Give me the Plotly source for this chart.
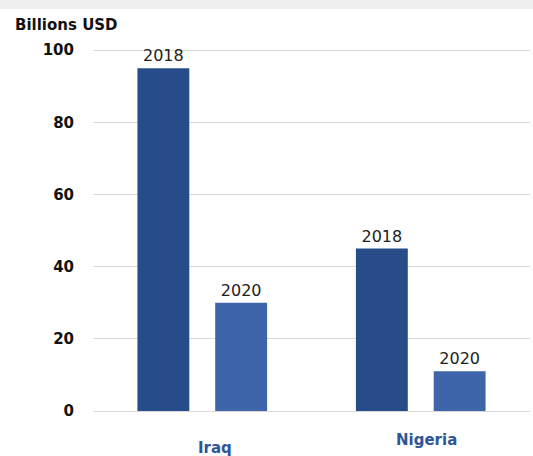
import plotly.graph_objects as go

countries = ["Iraq", "Nigeria"]
years = ["2018", "2020"]
values_2018 = [95, 45]
values_2020 = [30, 11]
y_ticks = [0, 20, 40, 60, 80, 100]

colors = {"2018": "#264C8A", "2020": "#3E65A9"}

fig = go.Figure()
for yr, vals in zip(years, [values_2018, values_2020]):
    fig.add_trace(go.Bar(
        x=countries, y=vals, name=yr,
        marker=dict(color=colors[yr], line=dict(width=0)),
        text=[yr] * len(vals), textposition="outside",
        textfont=dict(family="DejaVu Sans", size=16, color="#222222"),
        cliponaxis=False,
    ))

fig.update_layout(
    width=533, height=456,
    margin=dict(l=93, r=3, t=49, b=45),
    paper_bgcolor="white", plot_bgcolor="white",
    barmode="group", bargap=0.288, bargroupgap=0.333,
    showlegend=False,
    xaxis=dict(showticklabels=False, showgrid=False, zeroline=False,
               showline=False, ticks=""),
    yaxis=dict(range=[0, 100.3], tickvals=y_ticks, showgrid=True,
               gridcolor="#D9D9D9", gridwidth=1, zeroline=True,
               zerolinecolor="#D9D9D9", zerolinewidth=1,
               ticklabelstandoff=18,
               tickfont=dict(family="DejaVu Sans", size=15, color="#111111",
                             weight="bold")),
    shapes=[dict(type="rect", xref="paper", yref="paper",
                 x0=-0.3, x1=1.1, y0=(411 - 9) / 362, y1=1.2,
                 fillcolor="#F0F0F0", line=dict(width=0), layer="below")],
    annotations=[
        dict(text="<b>Billions USD</b>", xref="paper", yref="paper",
             x=-80 / 437, y=(411 - 25) / 362, xanchor="left", yanchor="middle",
             showarrow=False,
             font=dict(family="DejaVu Sans", size=15, color="#111111")),
        dict(text="<b>Iraq</b>", xref="x", yref="paper", x="Iraq", xshift=13,
             y=(411 - 448) / 362, yanchor="middle", showarrow=False,
             font=dict(family="DejaVu Sans", size=15, color="#2F5597")),
        dict(text="<b>Nigeria</b>", xref="x", yref="paper", x="Nigeria", xshift=6,
             y=(411 - 440) / 362, yanchor="middle", showarrow=False,
             font=dict(family="DejaVu Sans", size=15, color="#2F5597")),
    ],
)

fig.write_html("out.html")
